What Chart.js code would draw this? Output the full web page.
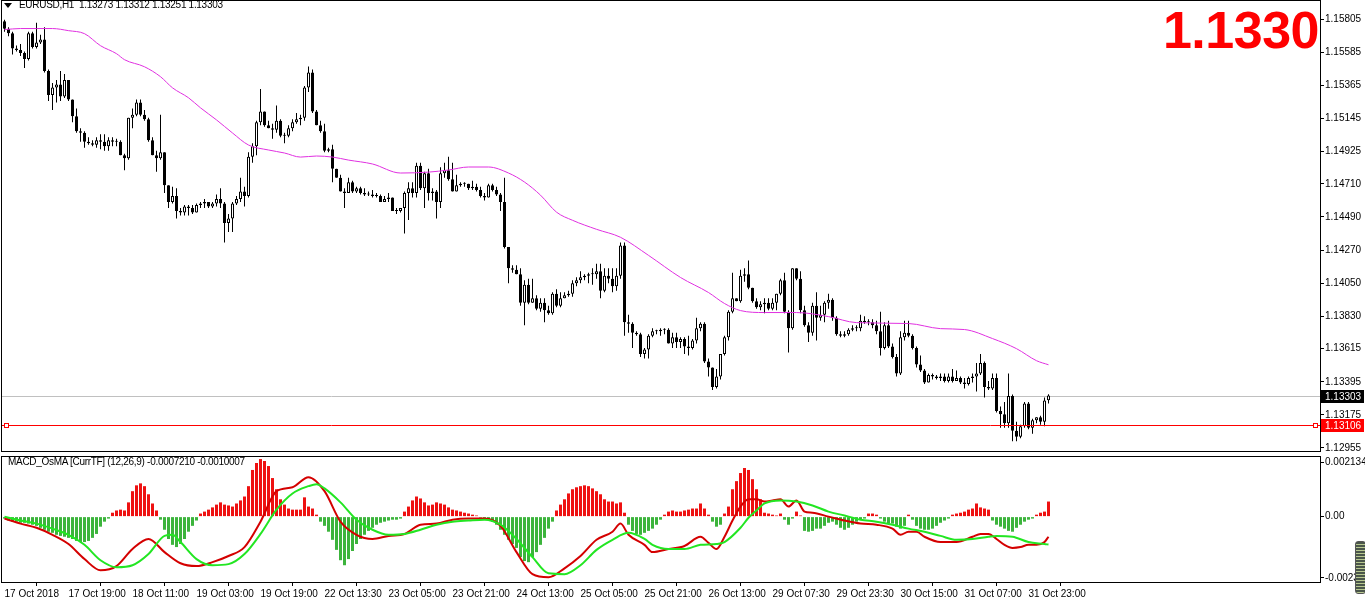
<!DOCTYPE html>
<html>
<head>
<meta charset="utf-8">
<title>EURUSD,H1 with MACD_OsMA</title>
<script src="https://cdn.jsdelivr.net/npm/chart.js@4.4.1/dist/chart.umd.min.js"></script>
<style>
  body { margin: 0; background: #fff; width: 1365px; height: 604px; overflow: hidden; position: relative;
         font-family: 'Liberation Sans', Arial, sans-serif; }
  .pane { position: absolute; left: 0; }
  .label { position: absolute; white-space: pre; font-size: 10px; line-height: 12px; color: #000; letter-spacing: -0.3px; }
  #arrow { position: absolute; left: 4px; top: 3px; width: 0; height: 0;
           border-left: 4px solid transparent; border-right: 4px solid transparent; border-top: 5px solid #000; }
  #bigPrice { position: absolute; right: 46px; top: 2px; font-size: 52px; font-weight: bold; color: #ff0000;
              letter-spacing: -0.5px; line-height: 56px; }
  #scroller { position: absolute; left: 1355px; top: 541px; width: 9px; height: 51px; border-radius: 3px;
              background: repeating-linear-gradient(#4a564a 0 2px, #b8c890 2px 3px); border: 1px solid #555; }
</style>
</head>
<body>
<div class="pane" style="top:0;width:1365px;height:453px"><canvas id="priceChart" width="1365" height="453"></canvas></div>
<div class="pane" style="top:453px;width:1365px;height:151px"><canvas id="macdChart" width="1365" height="151"></canvas></div>
<div id="arrow"></div>
<div class="label" style="left:19px;top:-1px">EURUSD,H1  1.13273 1.13312 1.13251 1.13303</div>
<div class="label" style="left:8px;top:456px">MACD_OsMA [CurrTF] (12,26,9) -0.0007210 -0.0010007</div>
<div id="bigPrice">1.1330</div>
<div id="scroller"></div>

<script>
// EURUSD H1 candles, 17 Oct 03:00 .. 1 Nov 04:00 (bar index 0..261)
const opens = [
  1.1579, 1.1574, 1.1571, 1.1561, 1.1560, 1.1558, 1.1554, 1.1571, 1.1562, 1.1565,
  1.1567, 1.1546, 1.1530, 1.1535, 1.1537, 1.1529, 1.1540, 1.1527, 1.1516, 1.1506,
  1.1505, 1.1499, 1.1498, 1.1497, 1.1500, 1.1499, 1.1496, 1.1500, 1.1499, 1.1499,
  1.1490, 1.1488, 1.1515, 1.1517, 1.1525, 1.1517, 1.1514, 1.1500, 1.1490, 1.1488,
  1.1492, 1.1470, 1.1459, 1.1463, 1.1453, 1.1452, 1.1456, 1.1455, 1.1452, 1.1457,
  1.1458, 1.1459, 1.1456, 1.1458, 1.1461, 1.1458, 1.1445, 1.1448, 1.1458, 1.1461,
  1.1466, 1.1463, 1.1489, 1.1496, 1.1512, 1.1519, 1.1510, 1.1508, 1.1507, 1.1513,
  1.1503, 1.1503, 1.1508, 1.1512, 1.1514, 1.1515, 1.1535, 1.1545, 1.1519, 1.1510,
  1.1506, 1.1493, 1.1494, 1.1481, 1.1475, 1.1466, 1.1465, 1.1472, 1.1466, 1.1468,
  1.1465, 1.1464, 1.1464, 1.1463, 1.1463, 1.1459, 1.1461, 1.1462, 1.1453, 1.1453,
  1.1455, 1.1465, 1.1468, 1.1465, 1.1483, 1.1468, 1.1478, 1.1465, 1.1466, 1.1459,
  1.1478, 1.1480, 1.1474, 1.1466, 1.1470, 1.1471, 1.1471, 1.1468, 1.1469, 1.1467,
  1.1463, 1.1462, 1.1470, 1.1467, 1.1464, 1.1459, 1.1429, 1.1415, 1.1414, 1.1411,
  1.1392, 1.1404, 1.1392, 1.1395, 1.1388, 1.1392, 1.1387, 1.1385, 1.1398, 1.1390,
  1.1395, 1.1397, 1.1398, 1.1405, 1.1407, 1.1409, 1.1410, 1.1411, 1.1411, 1.1413,
  1.1400, 1.1410, 1.1408, 1.1403, 1.1410, 1.1430, 1.1379, 1.1378, 1.1372, 1.1371,
  1.1358, 1.1361, 1.1370, 1.1373, 1.1373, 1.1374, 1.1374, 1.1365, 1.1369, 1.1366,
  1.1368, 1.1363, 1.1362, 1.1367, 1.1375, 1.1378, 1.1353, 1.1349, 1.1336, 1.1343,
  1.1358, 1.1369, 1.1386, 1.1395, 1.1393, 1.1410, 1.1411, 1.1402, 1.1393, 1.1389,
  1.1391, 1.1392, 1.1388, 1.1392, 1.1398, 1.1407, 1.1386, 1.1375, 1.1415, 1.1408,
  1.1387, 1.1377, 1.1372, 1.1390, 1.1382, 1.1384, 1.1392, 1.1394, 1.1382, 1.1371,
  1.1370, 1.1371, 1.1374, 1.1375, 1.1375, 1.1380, 1.1379, 1.1379, 1.1377, 1.1373,
  1.1362, 1.1377, 1.1363, 1.1356, 1.1345, 1.1369, 1.1372, 1.1370, 1.1362, 1.1351,
  1.1347, 1.1339, 1.1344, 1.1343, 1.1342, 1.1343, 1.1340, 1.1343, 1.1340, 1.1342,
  1.1339, 1.1338, 1.1342, 1.1343, 1.1345, 1.1352, 1.1336, 1.1335, 1.1342, 1.1320,
  1.1318, 1.1312, 1.1330, 1.1307, 1.1303, 1.1310, 1.1325, 1.1309, 1.1314, 1.1316,
  1.1313, 1.13273
];
const highs = [
  1.1580, 1.1575, 1.1572, 1.1563, 1.1564, 1.1559, 1.1572, 1.1572, 1.1578, 1.1570,
  1.1575, 1.1547, 1.1538, 1.1540, 1.1546, 1.1544, 1.1540, 1.1527, 1.1521, 1.1508,
  1.1506, 1.1502, 1.1500, 1.1502, 1.1504, 1.1504, 1.1502, 1.1502, 1.1501, 1.1500,
  1.1491, 1.1515, 1.1521, 1.1527, 1.1527, 1.1520, 1.1515, 1.1502, 1.1493, 1.1517,
  1.1492, 1.1470, 1.1469, 1.1468, 1.1455, 1.1457, 1.1457, 1.1457, 1.1458, 1.1459,
  1.1461, 1.1459, 1.1459, 1.1464, 1.1468, 1.1459, 1.1451, 1.1459, 1.1463, 1.1475,
  1.1469, 1.1492, 1.1498, 1.1513, 1.1534, 1.1519, 1.1513, 1.1511, 1.1523, 1.1514,
  1.1505, 1.1510, 1.1514, 1.1518, 1.1517, 1.1536, 1.1549, 1.1547, 1.1520, 1.1513,
  1.1511, 1.1495, 1.1497, 1.1481, 1.1477, 1.1468, 1.1475, 1.1473, 1.1469, 1.1469,
  1.1468, 1.1466, 1.1467, 1.1465, 1.1464, 1.1463, 1.1465, 1.1462, 1.1455, 1.1455,
  1.1466, 1.1472, 1.1472, 1.1485, 1.1485, 1.1479, 1.1481, 1.1468, 1.1467, 1.1482,
  1.1485, 1.1489, 1.1485, 1.1477, 1.1472, 1.1472, 1.1471, 1.1473, 1.1471, 1.1469,
  1.1465, 1.1471, 1.1471, 1.1469, 1.1465, 1.1475, 1.1429, 1.1417, 1.1417, 1.1415,
  1.1407, 1.1408, 1.1408, 1.1397, 1.1395, 1.1395, 1.1390, 1.1399, 1.1401, 1.1399,
  1.1399, 1.1400, 1.1407, 1.1409, 1.1413, 1.1411, 1.1412, 1.1415, 1.1418, 1.1418,
  1.1415, 1.1415, 1.1415, 1.1415, 1.1432, 1.1432, 1.1384, 1.1379, 1.1373, 1.1372,
  1.1362, 1.1371, 1.1375, 1.1374, 1.1375, 1.1375, 1.1375, 1.1372, 1.1372, 1.1369,
  1.1369, 1.1370, 1.1368, 1.1382, 1.1379, 1.1379, 1.1355, 1.1349, 1.1348, 1.1358,
  1.1370, 1.1387, 1.1412, 1.1395, 1.1414, 1.1415, 1.1420, 1.1402, 1.1395, 1.1393,
  1.1395, 1.1395, 1.1395, 1.1398, 1.1408, 1.1412, 1.1387, 1.1415, 1.1415, 1.1413,
  1.1390, 1.1379, 1.1392, 1.1399, 1.1390, 1.1393, 1.1398, 1.1395, 1.1383, 1.1373,
  1.1373, 1.1375, 1.1377, 1.1377, 1.1384, 1.1383, 1.1381, 1.1381, 1.1380, 1.1386,
  1.1379, 1.1380, 1.1365, 1.1358, 1.1373, 1.1380, 1.1380, 1.1371, 1.1363, 1.1357,
  1.1348, 1.1345, 1.1345, 1.1344, 1.1345, 1.1345, 1.1345, 1.1348, 1.1347, 1.1343,
  1.1342, 1.1343, 1.1345, 1.1352, 1.1358, 1.1353, 1.1340, 1.1345, 1.1345, 1.1323,
  1.1326, 1.1345, 1.1331, 1.1313, 1.1311, 1.1326, 1.1326, 1.1315, 1.1316, 1.1317,
  1.1329, 1.13312
];
const lows = [
  1.1572, 1.1569, 1.1557, 1.1559, 1.1556, 1.1548, 1.1553, 1.1561, 1.1561, 1.1564,
  1.1545, 1.1526, 1.1520, 1.1525, 1.1526, 1.1528, 1.1526, 1.1512, 1.1505, 1.1499,
  1.1495, 1.1497, 1.1496, 1.1495, 1.1494, 1.1493, 1.1493, 1.1496, 1.1496, 1.1490,
  1.1480, 1.1487, 1.1508, 1.1516, 1.1516, 1.1513, 1.1499, 1.1490, 1.1479, 1.1487,
  1.1465, 1.1455, 1.1458, 1.1448, 1.1450, 1.1450, 1.1450, 1.1451, 1.1452, 1.1455,
  1.1455, 1.1455, 1.1455, 1.1456, 1.1455, 1.1432, 1.1439, 1.1439, 1.1457, 1.1459,
  1.1456, 1.1462, 1.1485, 1.1490, 1.1510, 1.1509, 1.1508, 1.1501, 1.1505, 1.1502,
  1.1498, 1.1502, 1.1506, 1.1511, 1.1510, 1.1513, 1.1532, 1.1518, 1.1510, 1.1505,
  1.1492, 1.1492, 1.1472, 1.1475, 1.1466, 1.1455, 1.1465, 1.1465, 1.1465, 1.1464,
  1.1463, 1.1463, 1.1462, 1.1462, 1.1459, 1.1459, 1.1459, 1.1453, 1.1451, 1.1452,
  1.1438, 1.1447, 1.1462, 1.1462, 1.1467, 1.1455, 1.1460, 1.1460, 1.1448, 1.1455,
  1.1475, 1.1473, 1.1466, 1.1466, 1.1469, 1.1469, 1.1467, 1.1467, 1.1466, 1.1462,
  1.1460, 1.1462, 1.1466, 1.1463, 1.1453, 1.1428, 1.1405, 1.1412, 1.1411, 1.1390,
  1.1377, 1.1391, 1.1392, 1.1387, 1.1386, 1.1379, 1.1384, 1.1384, 1.1389, 1.1389,
  1.1395, 1.1396, 1.1396, 1.1403, 1.1405, 1.1407, 1.1405, 1.1404, 1.1408, 1.1395,
  1.1399, 1.1405, 1.1399, 1.1400, 1.1408, 1.1370, 1.1372, 1.1362, 1.1370, 1.1356,
  1.1355, 1.1355, 1.1369, 1.1371, 1.1370, 1.1371, 1.1365, 1.1362, 1.1362, 1.1362,
  1.1358, 1.1357, 1.1361, 1.1365, 1.1373, 1.1352, 1.1343, 1.1334, 1.1335, 1.1341,
  1.1357, 1.1367, 1.1385, 1.1393, 1.1392, 1.1406, 1.1401, 1.1392, 1.1388, 1.1387,
  1.1385, 1.1387, 1.1387, 1.1387, 1.1397, 1.1385, 1.1359, 1.1374, 1.1407, 1.1385,
  1.1376, 1.1366, 1.1370, 1.1367, 1.1380, 1.1379, 1.1388, 1.1380, 1.1370, 1.1369,
  1.1369, 1.1370, 1.1373, 1.1373, 1.1373, 1.1378, 1.1377, 1.1375, 1.1371, 1.1357,
  1.1361, 1.1362, 1.1355, 1.1343, 1.1344, 1.1367, 1.1369, 1.1361, 1.1349, 1.1346,
  1.1338, 1.1339, 1.1341, 1.1341, 1.1340, 1.1339, 1.1339, 1.1339, 1.1340, 1.1338,
  1.1335, 1.1337, 1.1339, 1.1333, 1.1344, 1.1329, 1.1334, 1.1334, 1.1319, 1.1309,
  1.1309, 1.1309, 1.1300, 1.1300, 1.1302, 1.1309, 1.1308, 1.1305, 1.1312, 1.1311,
  1.1310, 1.13251
];
const closes = [
  1.1574, 1.1571, 1.1561, 1.1560, 1.1558, 1.1554, 1.1571, 1.1562, 1.1565, 1.1567,
  1.1546, 1.1530, 1.1535, 1.1537, 1.1529, 1.1540, 1.1527, 1.1516, 1.1506, 1.1505,
  1.1499, 1.1498, 1.1497, 1.1500, 1.1499, 1.1496, 1.1500, 1.1499, 1.1499, 1.1490,
  1.1488, 1.1515, 1.1517, 1.1525, 1.1517, 1.1514, 1.1500, 1.1490, 1.1488, 1.1492,
  1.1470, 1.1459, 1.1463, 1.1453, 1.1452, 1.1456, 1.1455, 1.1452, 1.1457, 1.1458,
  1.1459, 1.1456, 1.1458, 1.1461, 1.1458, 1.1445, 1.1448, 1.1458, 1.1461, 1.1466,
  1.1463, 1.1489, 1.1496, 1.1512, 1.1519, 1.1510, 1.1508, 1.1507, 1.1513, 1.1503,
  1.1503, 1.1508, 1.1512, 1.1514, 1.1515, 1.1535, 1.1545, 1.1519, 1.1510, 1.1506,
  1.1493, 1.1494, 1.1481, 1.1475, 1.1466, 1.1465, 1.1472, 1.1466, 1.1468, 1.1465,
  1.1464, 1.1464, 1.1463, 1.1463, 1.1459, 1.1461, 1.1462, 1.1453, 1.1453, 1.1455,
  1.1465, 1.1468, 1.1465, 1.1483, 1.1468, 1.1478, 1.1465, 1.1466, 1.1459, 1.1478,
  1.1480, 1.1474, 1.1466, 1.1470, 1.1471, 1.1471, 1.1468, 1.1469, 1.1467, 1.1463,
  1.1462, 1.1470, 1.1467, 1.1464, 1.1459, 1.1429, 1.1415, 1.1414, 1.1411, 1.1392,
  1.1404, 1.1392, 1.1395, 1.1388, 1.1392, 1.1387, 1.1385, 1.1398, 1.1390, 1.1395,
  1.1397, 1.1398, 1.1405, 1.1407, 1.1409, 1.1410, 1.1411, 1.1411, 1.1413, 1.1400,
  1.1410, 1.1408, 1.1403, 1.1410, 1.1430, 1.1379, 1.1378, 1.1372, 1.1371, 1.1358,
  1.1361, 1.1370, 1.1373, 1.1373, 1.1374, 1.1374, 1.1365, 1.1369, 1.1366, 1.1368,
  1.1363, 1.1362, 1.1367, 1.1375, 1.1378, 1.1353, 1.1349, 1.1336, 1.1343, 1.1358,
  1.1369, 1.1386, 1.1395, 1.1393, 1.1410, 1.1411, 1.1402, 1.1393, 1.1389, 1.1391,
  1.1392, 1.1388, 1.1392, 1.1398, 1.1407, 1.1386, 1.1375, 1.1415, 1.1408, 1.1387,
  1.1377, 1.1372, 1.1390, 1.1382, 1.1384, 1.1392, 1.1394, 1.1382, 1.1371, 1.1370,
  1.1371, 1.1374, 1.1375, 1.1375, 1.1380, 1.1379, 1.1379, 1.1377, 1.1373, 1.1362,
  1.1377, 1.1363, 1.1356, 1.1345, 1.1369, 1.1372, 1.1370, 1.1362, 1.1351, 1.1347,
  1.1339, 1.1344, 1.1343, 1.1342, 1.1343, 1.1340, 1.1343, 1.1340, 1.1342, 1.1339,
  1.1338, 1.1342, 1.1343, 1.1345, 1.1352, 1.1336, 1.1335, 1.1342, 1.1320, 1.1318,
  1.1312, 1.1330, 1.1307, 1.1303, 1.1310, 1.1325, 1.1309, 1.1314, 1.1316, 1.1313,
  1.1327, 1.13303
];

// moving average line (magenta), read at these bar indexes
const maIdx = [0, 4, 8, 12, 16, 20, 24, 28, 30, 35, 39, 42, 46, 49, 53, 57, 61, 66, 70, 74, 78, 82, 86, 92, 99,
  106, 111, 116, 121, 126, 130, 134, 138, 142, 148, 154, 161, 169, 176, 180, 184, 190, 198, 206, 213, 226, 234,
  240, 247, 253, 258, 261];
const maVals = [1.15735, 1.15742, 1.15742, 1.15742, 1.15728, 1.15708, 1.15628, 1.15575, 1.15535, 1.15488, 1.15422,
  1.15348, 1.15282, 1.15215, 1.15135, 1.15048, 1.14968, 1.14935, 1.14915, 1.14888, 1.14895, 1.14888, 1.14868,
  1.14842, 1.14782, 1.14788, 1.14802, 1.14822, 1.14822, 1.14782, 1.14722, 1.14635, 1.14522, 1.14468, 1.14408,
  1.14355, 1.14235, 1.14088, 1.13988, 1.13915, 1.13868, 1.13855, 1.13855, 1.13828, 1.13788, 1.13782, 1.13748,
  1.13742, 1.13682, 1.13615, 1.13535, 1.13508];

// MACD_OsMA histogram, one value per bar
const osma = [
  -7e-5, -14e-5, -18e-5, -18e-5, -22e-5, -22e-5, -25e-5, -29e-5, -33e-5, -40e-5,
  -47e-5, -54e-5, -58e-5, -65e-5, -69e-5, -72e-5, -76e-5, -80e-5, -87e-5, -91e-5,
  -91e-5, -87e-5, -76e-5, -62e-5, -36e-5, -18e-5, -7e-5, 14e-5, 22e-5, 25e-5,
  22e-5, 51e-5, 91e-5, 112e-5, 119e-5, 109e-5, 80e-5, 47e-5, 22e-5, -11e-5,
  -47e-5, -80e-5, -101e-5, -109e-5, -98e-5, -80e-5, -54e-5, -33e-5, -14e-5, 11e-5,
  18e-5, 25e-5, 33e-5, 43e-5, 51e-5, 43e-5, 40e-5, 36e-5, 47e-5, 58e-5,
  72e-5, 109e-5, 167e-5, 192e-5, 206e-5, 199e-5, 181e-5, 138e-5, 98e-5, 62e-5,
  43e-5, 29e-5, 25e-5, 25e-5, 25e-5, 69e-5, 36e-5, 29e-5, 7e-5, -18e-5,
  -33e-5, -54e-5, -83e-5, -119e-5, -156e-5, -174e-5, -152e-5, -123e-5, -98e-5, -80e-5,
  -65e-5, -51e-5, -40e-5, -29e-5, -22e-5, -18e-5, -14e-5, -11e-5, -11e-5, -7e-5,
  18e-5, 36e-5, 58e-5, 72e-5, 65e-5, 51e-5, 40e-5, 43e-5, 51e-5, 47e-5,
  43e-5, 33e-5, 25e-5, 22e-5, 18e-5, 14e-5, 11e-5, 7e-5, 4e-5, -4e-5,
  -7e-5, -11e-5, -18e-5, -29e-5, -47e-5, -65e-5, -83e-5, -98e-5, -112e-5, -145e-5,
  -159e-5, -163e-5, -145e-5, -127e-5, -101e-5, -76e-5, -43e-5, -18e-5, 22e-5, 43e-5,
  62e-5, 83e-5, 98e-5, 105e-5, 109e-5, 112e-5, 109e-5, 101e-5, 91e-5, 80e-5,
  62e-5, 54e-5, 54e-5, 47e-5, 51e-5, 14e-5, -29e-5, -51e-5, -62e-5, -65e-5,
  -58e-5, -51e-5, -43e-5, -29e-5, -11e-5, 7e-5, 18e-5, 22e-5, 18e-5, 18e-5,
  22e-5, 25e-5, 29e-5, 29e-5, 47e-5, 29e-5, 7e-5, -18e-5, -36e-5, -29e-5,
  11e-5, 36e-5, 98e-5, 127e-5, 156e-5, 174e-5, 167e-5, 134e-5, 98e-5, 62e-5,
  14e-5, 11e-5, 7e-5, 4e-5, 11e-5, -11e-5, -29e-5, -7e-5, 18e-5, 4e-5,
  -51e-5, -54e-5, -51e-5, -43e-5, -43e-5, -33e-5, -22e-5, -18e-5, -29e-5, -40e-5,
  -47e-5, -40e-5, -29e-5, -18e-5, -11e-5, -7e-5, 11e-5, 11e-5, 7e-5, -7e-5,
  -18e-5, -25e-5, -25e-5, -36e-5, -43e-5, -33e-5, 7e-5, -11e-5, -33e-5, -43e-5,
  -47e-5, -47e-5, -43e-5, -33e-5, -22e-5, -14e-5, -7e-5, 7e-5, 11e-5, 14e-5,
  18e-5, 25e-5, 29e-5, 47e-5, 33e-5, 29e-5, 25e-5, -14e-5, -29e-5, -36e-5,
  -43e-5, -51e-5, -54e-5, -40e-5, -29e-5, -18e-5, -11e-5, -7e-5, 7e-5, 14e-5,
  18e-5, 54e-5
];

// MACD main line (red), read at these bar indexes
const macdIdx = [0, 4, 8, 12, 16, 20, 24, 28, 32, 36, 40, 44, 48, 52, 56, 60, 64, 68, 72, 76, 80, 84, 88, 92, 96,
  100, 104, 108, 112, 116, 120, 124, 128, 132, 136, 140, 144, 148, 152, 154, 156, 160, 162, 166, 170, 174, 176,
  178, 180, 182, 184, 186, 188, 190, 192, 194, 196, 198, 200, 202, 206, 210, 214, 218, 222, 224, 226, 228, 230,
  234, 238, 242, 244, 246, 248, 250, 252, 254, 256, 258, 260, 261];
const macdVals = [-7e-5, -25e-5, -40e-5, -65e-5, -98e-5, -152e-5, -192e-5, -177e-5, -116e-5, -80e-5, -127e-5,
  -167e-5, -177e-5, -163e-5, -141e-5, -109e-5, -18e-5, 91e-5, 105e-5, 141e-5, 91e-5, -18e-5, -65e-5, -80e-5,
  -69e-5, -62e-5, -29e-5, -25e-5, -11e-5, -7e-5, -7e-5, -33e-5, -127e-5, -206e-5, -217e-5, -185e-5, -141e-5,
  -83e-5, -54e-5, -25e-5, -65e-5, -101e-5, -127e-5, -116e-5, -105e-5, -72e-5, -94e-5, -116e-5, -72e-5, -14e-5,
  36e-5, 62e-5, 62e-5, 54e-5, 58e-5, 62e-5, 36e-5, 58e-5, 18e-5, 14e-5, 0, -14e-5, -25e-5, -29e-5, -43e-5,
  -65e-5, -54e-5, -54e-5, -72e-5, -91e-5, -91e-5, -72e-5, -62e-5, -62e-5, -80e-5, -101e-5, -112e-5, -109e-5,
  -101e-5, -101e-5, -91e-5, -0.000721];

// signal line (green), read at these bar indexes
const signalIdx = [0, 4, 8, 12, 16, 20, 24, 28, 32, 36, 40, 42, 44, 48, 52, 56, 60, 64, 68, 72, 76, 78, 80, 84, 88,
  92, 96, 100, 104, 108, 112, 116, 120, 124, 128, 132, 136, 140, 144, 148, 152, 156, 160, 162, 166, 170, 174,
  178, 180, 184, 186, 188, 190, 194, 198, 202, 206, 210, 214, 218, 222, 226, 230, 234, 238, 242, 246, 248, 252,
  256, 260, 261];
const signalVals = [0, -14e-5, -25e-5, -43e-5, -65e-5, -101e-5, -156e-5, -181e-5, -174e-5, -134e-5, -69e-5, -65e-5,
  -91e-5, -152e-5, -174e-5, -170e-5, -134e-5, -62e-5, 25e-5, 83e-5, 109e-5, 116e-5, 101e-5, 51e-5, -11e-5,
  -47e-5, -65e-5, -62e-5, -47e-5, -29e-5, -18e-5, -14e-5, -11e-5, -29e-5, -80e-5, -145e-5, -203e-5, -206e-5,
  -174e-5, -119e-5, -83e-5, -58e-5, -80e-5, -101e-5, -116e-5, -116e-5, -101e-5, -98e-5, -91e-5, -40e-5, -4e-5,
  22e-5, 47e-5, 58e-5, 54e-5, 40e-5, 18e-5, 4e-5, -11e-5, -18e-5, -29e-5, -43e-5, -54e-5, -69e-5, -83e-5,
  -80e-5, -72e-5, -69e-5, -72e-5, -91e-5, -98e-5, -0.0010007];

// axis labels
const priceTicks = [1.15805, 1.15585, 1.15365, 1.15145, 1.14925, 1.14710, 1.14490, 1.14270, 1.14050, 1.13830,
  1.13615, 1.13395, 1.13175, 1.12955];
const timeTicks = [0, 16, 32, 48, 64, 80, 96, 112, 128, 144, 160, 176, 192, 208, 224, 240, 256];
const timeLabels = ['17 Oct 2018', '17 Oct 19:00', '18 Oct 11:00', '19 Oct 03:00', '19 Oct 19:00', '22 Oct 13:30',
  '23 Oct 05:00', '23 Oct 21:00', '24 Oct 13:00', '25 Oct 05:00', '25 Oct 21:00', '26 Oct 13:00', '29 Oct 07:30',
  '29 Oct 23:30', '30 Oct 15:00', '31 Oct 07:00', '31 Oct 23:00'];
const macdTicks = [0.00195, 0, -0.00219];
const macdTickLabels = ['0.002134', '0.00', '-0.0023'];

const LAST_PRICE = 1.13303;   // grey bid line
const LEVEL_PRICE = 1.13106;  // red horizontal line

// visible bar range (4 px per bar)
const X_MIN = -0.625;
const X_MAX = 328.875;

Chart.defaults.font.family = "'Liberation Sans', Arial, sans-serif";
Chart.defaults.font.size = 10;
Chart.defaults.color = '#000';

// fixed axis sizes, no extra room for edge labels
function fixWidth(ax) {
    ax.width = 45;
    ax.paddingTop = 0;
    ax.paddingBottom = 0;
}

function fixHeight(ax) {
    ax.height = 22;
    ax.paddingLeft = 0;
    ax.paddingRight = 0;
}

function frame(chart) {
    const { ctx, chartArea: a } = chart;
    ctx.save();
    ctx.strokeStyle = '#000';
    ctx.lineWidth = 1;
    ctx.strokeRect(a.left - 0.5, a.top - 0.5, a.right - a.left + 1, a.bottom - a.top + 1);
    ctx.restore();
}

const priceOverlay = {
    id: 'priceOverlay',
    beforeDatasetsDraw(chart) {
        // grey bid line sits behind the candles
        const { ctx, chartArea: a, scales: { y } } = chart;
        ctx.save();
        ctx.lineWidth = 1;
        const yb = Math.round(y.getPixelForValue(LAST_PRICE)) + 0.5;
        ctx.strokeStyle = '#c0c0c0';
        ctx.beginPath(); ctx.moveTo(a.left, yb); ctx.lineTo(a.right, yb); ctx.stroke();
        ctx.restore();
    },
    afterDatasetsDraw(chart) {
        // red level line with its small end handles
        const { ctx, chartArea: a, scales: { y } } = chart;
        ctx.save();
        ctx.lineWidth = 1;
        const yl = Math.round(y.getPixelForValue(LEVEL_PRICE)) + 0.5;
        ctx.strokeStyle = '#ff0000';
        ctx.beginPath(); ctx.moveTo(a.left, yl); ctx.lineTo(a.right, yl); ctx.stroke();
        [a.left + 2, a.right - 7].forEach(x => {
            ctx.fillStyle = '#fff';
            ctx.fillRect(x, yl - 2.5, 5, 5);
            ctx.strokeRect(x + 0.5, yl - 2, 4, 4);
        });
        ctx.restore();
    },
    afterDraw(chart) {
        frame(chart);
        const { ctx, chartArea: a, scales: { y } } = chart;
        ctx.save();
        ctx.font = "10px 'Liberation Sans'";
        ctx.textBaseline = 'middle';
        [[LAST_PRICE, '#000000'], [LEVEL_PRICE, '#ff0000']].forEach(([p, bg]) => {
            const py = Math.round(y.getPixelForValue(p));
            ctx.fillStyle = bg;
            ctx.fillRect(a.right + 1, py - 6, 43, 13);
            ctx.fillStyle = '#fff';
            ctx.fillText(p.toFixed(5), a.right + 5, py + 1);
        });
        ctx.restore();
    }
};

const bodyData = closes.map((c, i) => ({ x: i, y: [Math.min(opens[i], c), Math.max(opens[i], c)] }));
const bodyColors = closes.map((c, i) => (c >= opens[i] ? '#ffffff' : '#000000'));
const wickData = closes.map((c, i) => ({ x: i, y: [lows[i], highs[i]] }));
const maData = maIdx.map((x, k) => ({ x: x, y: maVals[k] }));

new Chart(document.getElementById('priceChart'), {
    type: 'bar',
    data: {
        datasets: [
            { type: 'line', data: maData, borderColor: '#e030e0', borderWidth: 1, pointRadius: 0,
              cubicInterpolationMode: 'monotone' },
            { data: bodyData, backgroundColor: bodyColors, borderColor: '#000', borderWidth: 1,
              borderSkipped: false, barThickness: 3, grouped: false, minBarLength: 1, inflateAmount: 0 },
            { data: wickData, backgroundColor: '#000', barThickness: 1, grouped: false, inflateAmount: 0 }
        ]
    },
    options: {
        responsive: false,
        animation: false,
        events: [],
        layout: { padding: { left: 2, top: 1, bottom: 2, right: 0 } },
        plugins: { legend: { display: false }, tooltip: { enabled: false } },
        scales: {
            x: { type: 'linear', min: X_MIN, max: X_MAX, offset: false, display: false },
            y: {
                position: 'right',
                min: 1.12935,
                max: 1.15925,
                afterBuildTicks: ax => { ax.ticks = priceTicks.map(v => ({ value: v })); },
                afterFit: fixWidth,
                ticks: { autoSkip: false, padding: 1, callback: v => v.toFixed(5) },
                grid: { drawOnChartArea: false, drawTicks: true, tickLength: 4, color: '#000' },
                border: { display: true, color: '#000' }
            }
        }
    },
    plugins: [priceOverlay]
});

const osmaData = osma.map((v, i) => ({ x: i, y: v }));
const osmaColors = osma.map(v => (v >= 0 ? '#ee1111' : '#3cb43c'));
const macdData = macdIdx.map((x, k) => ({ x: x, y: macdVals[k] }));
const signalData = signalIdx.map((x, k) => ({ x: x, y: signalVals[k] }));

new Chart(document.getElementById('macdChart'), {
    type: 'bar',
    data: {
        datasets: [
            { type: 'line', data: signalData, borderColor: '#22e622', borderWidth: 2, pointRadius: 0,
              cubicInterpolationMode: 'monotone' },
            { type: 'line', data: macdData, borderColor: '#d40000', borderWidth: 2, pointRadius: 0,
              cubicInterpolationMode: 'monotone' },
            { data: osmaData, backgroundColor: osmaColors, barThickness: 3, grouped: false, inflateAmount: 0 }
        ]
    },
    options: {
        responsive: false,
        animation: false,
        events: [],
        layout: { padding: { left: 2, top: 4, bottom: 0, right: 0 } },
        plugins: { legend: { display: false }, tooltip: { enabled: false } },
        scales: {
            x: {
                type: 'linear', min: X_MIN, max: X_MAX, offset: false,
                afterBuildTicks: ax => { ax.ticks = timeTicks.map(v => ({ value: v })); },
                afterFit: fixHeight,
                ticks: { autoSkip: false, maxRotation: 0, align: 'start', padding: 2,
                         callback: (v, i) => timeLabels[i] },
                grid: { drawOnChartArea: false, drawTicks: true, tickLength: 4, color: '#000' },
                border: { display: true, color: '#000' }
            },
            y: {
                position: 'right',
                min: -0.00234,
                max: 0.002134,
                afterBuildTicks: ax => { ax.ticks = macdTicks.map(v => ({ value: v })); },
                afterFit: fixWidth,
                ticks: { autoSkip: false, padding: 1, callback: (v, i) => macdTickLabels[i] },
                grid: { drawOnChartArea: false, drawTicks: true, tickLength: 4, color: '#000' },
                border: { display: true, color: '#000' }
            }
        }
    },
    plugins: [{ id: 'macdFrame', afterDraw: frame }]
});
</script>
</body>
</html>
